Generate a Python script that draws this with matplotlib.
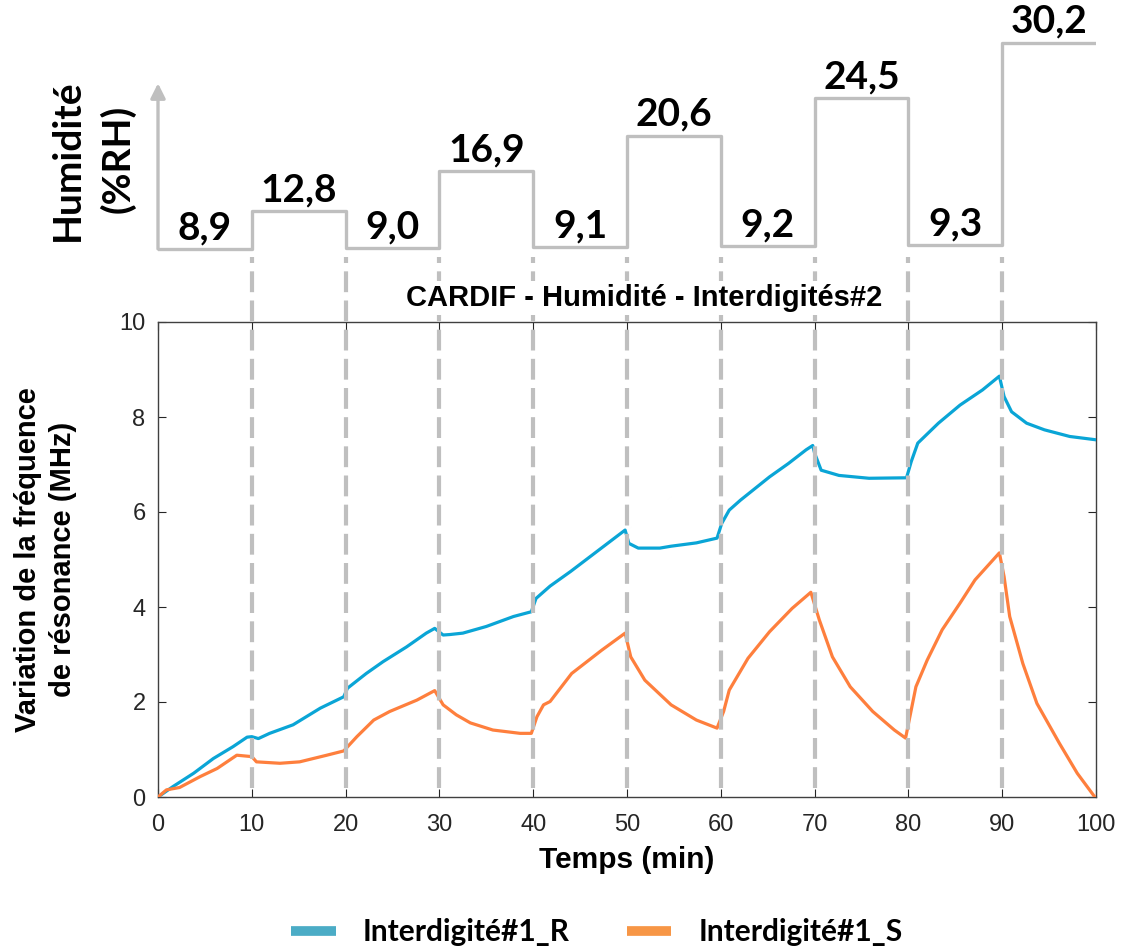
import matplotlib
matplotlib.use("Agg")
import matplotlib.pyplot as plt
from matplotlib.lines import Line2D

# humidity steps (%RH), one per 10 min
step_t = [0, 10, 20, 30, 40, 50, 60, 70, 80, 90, 100]
humid = [8.9, 12.8, 9.0, 16.9, 9.1, 20.6, 9.2, 24.5, 9.3, 30.2]
humid_lbl = ["8,9", "12,8", "9,0", "16,9", "9,1", "20,6", "9,2", "24,5", "9,3", "30,2"]

# Interdigité#1_R
t_r = [0, 1.6, 3.8, 5.9, 8.0, 9.5, 10.0, 10.7, 11.9, 14.4, 17.3, 19.8, 20.2, 22.2, 24.0,
       26.5, 28.6, 29.5, 30.4, 31.1, 32.5, 35.0, 37.9, 39.8, 40.3, 41.8, 44.0, 47.0, 49.8,
       50.2, 51.2, 53.5, 54.7, 57.4, 59.6, 60.1, 60.9, 62.1, 65.2, 67.2, 69.1, 69.8, 70.0,
       70.7, 72.6, 75.8, 79.8, 80.3, 81.0, 83.2, 85.5, 87.9, 89.7, 90.2, 91.0, 92.6, 94.5,
       97.2, 100]
f_r = [0, 0.22, 0.5, 0.81, 1.06, 1.26, 1.27, 1.23, 1.34, 1.52, 1.87, 2.11, 2.29, 2.6, 2.85,
       3.16, 3.45, 3.55, 3.41, 3.42, 3.45, 3.59, 3.80, 3.9, 4.18, 4.44, 4.75, 5.2, 5.62,
       5.34, 5.24, 5.24, 5.28, 5.35, 5.45, 5.76, 6.04, 6.25, 6.74, 7.02, 7.31, 7.40, 7.24,
       6.88, 6.77, 6.71, 6.72, 7.06, 7.45, 7.87, 8.25, 8.57, 8.86, 8.43, 8.11, 7.87, 7.73,
       7.59, 7.52]

# Interdigité#1_S
t_s = [0, 0.9, 2.3, 4.5, 6.3, 8.4, 10.0, 10.5, 13.0, 15.1, 18.0, 19.8, 21.2, 23.0, 24.7,
       27.6, 29.5, 30.4, 31.8, 33.3, 35.7, 38.6, 39.8, 40.4, 41.1, 41.8, 44.1, 47.3, 49.8,
       50.4, 51.9, 54.7, 57.4, 59.6, 60.3, 60.9, 62.9, 65.2, 67.6, 69.6, 70.5, 71.9, 73.8,
       76.2, 78.5, 79.7, 80.3, 80.8, 82.0, 83.6, 85.5, 87.1, 89.7, 90.2, 90.8, 92.2, 93.7,
       96.1, 98.0, 99.8]
f_s = [0, 0.15, 0.2, 0.43, 0.6, 0.88, 0.85, 0.74, 0.71, 0.74, 0.88, 0.97, 1.27, 1.62, 1.80,
       2.04, 2.24, 1.94, 1.73, 1.56, 1.41, 1.34, 1.34, 1.69, 1.94, 2.01, 2.6, 3.09, 3.45,
       2.95, 2.46, 1.94, 1.62, 1.45, 1.80, 2.25, 2.92, 3.48, 3.97, 4.31, 3.73, 2.95, 2.32,
       1.80, 1.41, 1.24, 1.83, 2.32, 2.88, 3.52, 4.08, 4.57, 5.14, 4.64, 3.80, 2.81, 1.97,
       1.13, 0.50, 0.02]

blue = "#0aa5d6"
orange = "#fe7f3d"
grey = "#bfbfbf"
txt = "#262626"

fig = plt.figure(figsize=(11.23, 9.49), dpi=100)
W, H = 1123.0, 949.0

# main chart
ax = fig.add_axes([158 / W, 1 - 797 / H, 938 / W, 475 / H])
ax.plot(t_r, f_r, color=blue, lw=2.3, zorder=3)
ax.plot(t_s, f_s, color=orange, lw=2.3, zorder=3)
ax.set_xlim(0, 100)
ax.set_ylim(0, 10)
ax.set_xticks(range(0, 101, 10))
ax.set_yticks(range(0, 11, 2))
ax.tick_params(direction="in", length=6, top=True, right=True, labelsize=17,
               colors=txt, pad=9)
ax.tick_params(axis="x", pad=12)
for s in ax.spines.values():
    s.set_color("#404040")
    s.set_linewidth(1)

# dashed markers at each humidity change, running up into the top panel
for t in step_t[1:-1]:
    ax.plot([t, t], [0.02, 1.137], transform=ax.get_xaxis_transform(), color=grey,
            lw=3, ls=(0, (5, 2)), clip_on=False, zorder=4)

ax.text(0.518, 1.05, "CARDIF - Humidité - Interdigités#2", transform=ax.transAxes,
        ha="center", va="center", fontsize=21, fontweight="bold",
        family="Liberation Sans", zorder=6,
        bbox=dict(facecolor="white", edgecolor="none", pad=2))
ax.text(0.5, -0.133, "Temps (min)", transform=ax.transAxes, ha="center", va="center",
        fontsize=21.5, fontweight="bold", family="Liberation Sans")
ax.text(-0.12, 0.5, "Variation de la fréquence\nde résonance (MHz)",
        transform=ax.transAxes, ha="center", va="center", rotation=90,
        fontsize=21, fontweight="bold", family="Liberation Sans", linespacing=1.3)
for lab in ax.get_xticklabels() + ax.get_yticklabels():
    lab.set_family("Liberation Sans")

# humidity profile
top = fig.add_axes([158 / W, 1 - 260 / H, 938 / W, 230 / H])
top.step(step_t, humid + [humid[-1]], where="post", color=grey, lw=2.4)
top.set_xlim(0, 100)
top.set_ylim(7.76, 31.5)
top.axis("off")
top.annotate("", xy=(0, 26.0), xytext=(0, humid[0]),
             arrowprops=dict(arrowstyle="-|>", color=grey, lw=2.4, mutation_scale=22,
                             shrinkA=0, shrinkB=0))
for i, lbl in enumerate(humid_lbl):
    top.annotate(lbl, xy=(step_t[i] + 5, humid[i]), xytext=(0, 7),
                 textcoords="offset points", ha="center", va="baseline",
                 fontsize=28, fontweight="bold", family="Lato")

fig.text(67 / W, 1 - 160 / H, "Humidité", rotation=90, ha="center", va="center",
         fontsize=28, fontweight="bold", family="Lato")
fig.text(118 / W, 1 - 159 / H, "(%RH)", rotation=90, ha="center", va="center",
         fontsize=28, fontweight="bold", family="Lato")

handles = [Line2D([], [], color="#4bacc6", lw=7, solid_capstyle="butt"),
           Line2D([], [], color="#f79646", lw=7, solid_capstyle="butt")]
fig.legend(handles, ["Interdigité#1_R", "Interdigité#1_S"], loc="center",
           bbox_to_anchor=(597 / W, 1 - 932 / H), ncol=2, frameon=False,
           prop=dict(family="Lato", weight="bold", size=21.5), handlelength=1.5,
           handletextpad=0.9, columnspacing=1.9, borderpad=0)

fig.savefig("out.png", dpi=100)
